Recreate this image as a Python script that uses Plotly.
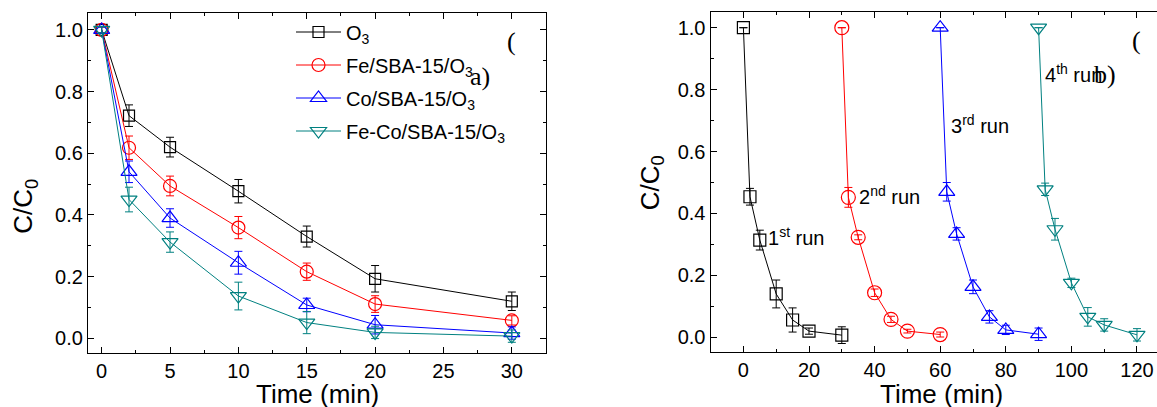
import plotly.graph_objects as go

W, H = 1157, 407

# ---------------- data: panel (a) ----------------
time_a = [0, 2, 5, 10, 15, 20, 30]
o3 = [1.0, 0.722, 0.62, 0.477, 0.33, 0.193, 0.12]
fe = [1.0, 0.618, 0.494, 0.359, 0.216, 0.111, 0.058]
co = [1.0, 0.54, 0.39, 0.245, 0.108, 0.044, 0.017]
feco = [1.0, 0.45, 0.312, 0.137, 0.051, 0.019, 0.007]
err_o3 = [0.01, 0.035, 0.032, 0.038, 0.034, 0.043, 0.03]
err_fe = [0.01, 0.038, 0.032, 0.036, 0.028, 0.027, 0.015]
err_co = [0.01, 0.035, 0.03, 0.037, 0.022, 0.03, 0.02]
err_feco = [0.01, 0.04, 0.033, 0.045, 0.036, 0.02, 0.02]
names_a = ["O<sub>3</sub>", "Fe/SBA-15/O<sub>3</sub>", "Co/SBA-15/O<sub>3</sub>",
           "Fe-Co/SBA-15/O<sub>3</sub>"]

# ---------------- data: panel (b) ----------------
time_r1 = [0, 2, 5, 10, 15, 20, 30]
time_r2 = [30, 32, 35, 40, 45, 50, 60]
time_r3 = [60, 62, 65, 70, 75, 80, 90]
time_r4 = [90, 92, 95, 100, 105, 110, 120]
run1 = [1.0, 0.454, 0.314, 0.14, 0.056, 0.02, 0.007]
run2 = [1.0, 0.452, 0.323, 0.144, 0.058, 0.02, 0.009]
run3 = [1.0, 0.47, 0.334, 0.163, 0.066, 0.024, 0.01]
run4 = [1.0, 0.478, 0.349, 0.176, 0.066, 0.04, 0.008]
err_r1 = [0.0, 0.027, 0.032, 0.045, 0.039, 0.01, 0.027]
err_r2 = [0.0, 0.032, 0.008, 0.012, 0.01, 0.006, 0.008]
err_r3 = [0.0, 0.03, 0.02, 0.022, 0.02, 0.015, 0.02]
err_r4 = [0.0, 0.02, 0.035, 0.015, 0.03, 0.02, 0.02]
run_labels = ["1<sup>st</sup> run", "2<sup>nd</sup> run", "3<sup>rd</sup> run", "4<sup>th</sup> run"]

colors = ["#000000", "#FF0000", "#0000FF", "#008080"]
symbols = ["square-open", "circle-open", "triangle-up-open", "triangle-down-open"]
sizes_a = [11, 13, 14, 14]
sizes_b = [12, 14, 14, 14]

SANS = "Liberation Sans, Arial, sans-serif"
SERIF = "Liberation Serif, Times New Roman, serif"

fig = go.Figure()

for y, e, n, c, s, sz in zip([o3, fe, co, feco], [err_o3, err_fe, err_co, err_feco],
                             names_a, colors, symbols, sizes_a):
    fig.add_trace(go.Scatter(
        x=time_a, y=y, name=n, mode="lines+markers", legendgroup=n,
        line=dict(color=c, width=1),
        marker=dict(symbol=s, size=sz, color=c, line=dict(width=1.2, color=c)),
        error_y=dict(type="data", array=e, color=c, thickness=1, width=4),
        xaxis="x", yaxis="y"))

for t, y, e, c, s, sz in zip([time_r1, time_r2, time_r3, time_r4], [run1, run2, run3, run4],
                             [err_r1, err_r2, err_r3, err_r4], colors, symbols, sizes_b):
    fig.add_trace(go.Scatter(
        x=t, y=y, mode="lines+markers", showlegend=False,
        line=dict(color=c, width=1),
        marker=dict(symbol=s, size=sz, color=c, line=dict(width=1.2, color=c)),
        error_y=dict(type="data", array=e, color=c, thickness=1, width=4),
        xaxis="x2", yaxis="y2"))

common = dict(showgrid=False, zeroline=False, ticks="inside", ticklen=6, tickwidth=1,
              tickcolor="black", showline=True, linecolor="black", linewidth=1.3,
              tickfont=dict(family=SANS, size=20, color="black"), ticklabelstandoff=0)

fig.update_layout(
    width=W, height=H,
    margin=dict(l=0, r=0, t=0, b=0),
    paper_bgcolor="white", plot_bgcolor="white",
    showlegend=True,
    legend=dict(x=291 / W, y=1 - 12.5 / H, xanchor="left", yanchor="top",
                font=dict(family=SANS, size=20, color="black"),
                bgcolor="rgba(0,0,0,0)", itemwidth=45, tracegroupgap=4),
    xaxis=dict(domain=[88 / W, 546 / W], range=[-1, 32.5], tick0=0, dtick=5, anchor="y",
               mirror="allticks",
               minor=dict(ticks="inside", ticklen=3, dtick=2.5, tickcolor="black"), **common),
    yaxis=dict(domain=[1 - 353.3 / H, 1 - 13.3 / H], range=[-0.0487, 1.054], tick0=0, dtick=0.2,
               tickformat=".1f", anchor="x", mirror="allticks",
               minor=dict(ticks="inside", ticklen=3, dtick=0.1, tickcolor="black"), **common),
    xaxis2=dict(domain=[710.6 / W, 1.0], range=[-10, 126.1], tick0=0, dtick=20, anchor="y2",
                mirror="allticks",
                minor=dict(ticks="inside", ticklen=3, dtick=10, tickcolor="black"), **common),
    yaxis2=dict(domain=[1 - 352.3 / H, 1 - 12.3 / H], range=[-0.0484, 1.0497], tick0=0, dtick=0.2,
                tickformat=".1f", anchor="x2", mirror=False,
                minor=dict(ticks="inside", ticklen=3, dtick=0.1, tickcolor="black"), **common),
)

ann = []
def add_text(text, px, py, size=20, family=SANS, xanchor="center", yanchor="middle", angle=0):
    ann.append(dict(text=text, x=px / W, y=1 - py / H, xref="paper", yref="paper",
                    xanchor=xanchor, yanchor=yanchor, showarrow=False, textangle=angle,
                    font=dict(family=family, size=size, color="black")))

# axis titles
add_text("Time (min)", 317, 394, size=26)
add_text("Time (min)", 941.7, 394, size=26)
add_text("C/C<sub>0</sub>", 25, 206.7, size=26, angle=-90)
add_text("C/C<sub>0</sub>", 651, 183.3, size=26, angle=-90)

# run labels
for lab, px, py in zip(run_labels, [765.8, 856.7, 949, 1042.7], [236, 195, 124, 73]):
    add_text(lab, px, py, size=20, xanchor="left")

# panel letters
add_text("(", 511, 41.7, size=26, family=SERIF)
add_text("a)", 480, 76.7, size=26, family=SERIF)
add_text("(", 1136, 40, size=26, family=SERIF)
add_text("b)", 1105, 74, size=26, family=SERIF)

fig.update_layout(annotations=ann)
fig.write_html("out.html")
